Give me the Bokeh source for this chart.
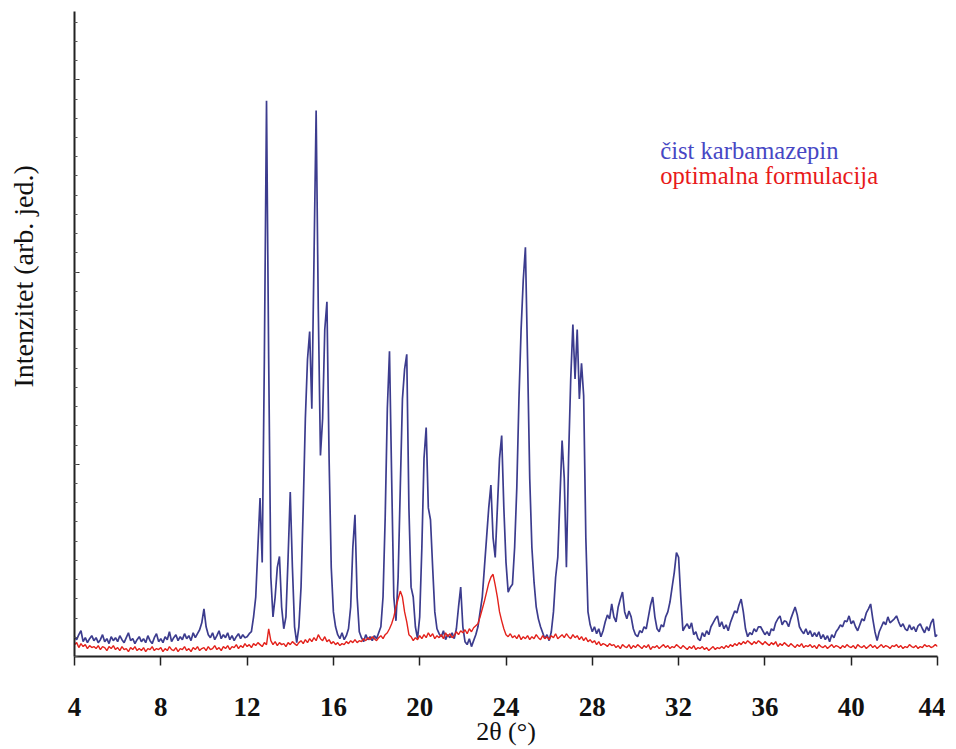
from bokeh.plotting import figure
from bokeh.models import (Range1d, FixedTicker, SingleIntervalTicker, Label, Title,
                          CustomJSTickFormatter, LinearAxis)
from bokeh.embed import file_html
from bokeh.resources import INLINE

# 2-theta scan grid (degrees), 0.1 deg step
two_theta = [round(4 + 0.1 * i, 1) for i in range(401)]

# Pure carbamazepine (blue), arbitrary units
karbamazepin = [
    20, 17, 22, 26, 15, 19, 14, 18, 21, 16,   # 4
    19, 14, 17, 22, 15, 18, 13, 20, 16, 19,   # 5
    15, 21, 17, 14, 19, 24, 16, 18, 13, 17,   # 6
    20, 15, 18, 14, 21, 16, 13, 19, 23, 15,   # 7
    18, 14, 20, 17, 25, 15, 19, 22, 16, 20,   # 8
    17, 23, 18, 21, 16, 24, 19, 23, 27, 34,   # 9
    48, 30, 22, 19, 24, 17, 21, 26, 18, 22,   # 10
    19, 24, 17, 21, 16, 20, 23, 18, 22, 19,   # 11
    20, 23, 25, 40, 60, 110, 160, 95, 300, 561,   # 12
    300, 80, 40, 60, 90, 101, 50, 28, 40, 100,    # 13
    166, 90, 30, 14, 30, 70, 150, 240, 300, 328,  # 14
    250, 400, 551, 350, 203, 240, 330, 358, 200, 90,  # 15
    45, 30, 22, 18, 24, 17, 21, 28, 50, 110,   # 16
    143, 60, 25, 19, 15, 22, 17, 20, 16, 21,   # 17
    18, 24, 30, 60, 140, 250, 308, 180, 60, 36,   # 18
    80, 170, 260, 290, 305, 150, 70, 60, 30, 18,  # 19
    40, 110, 200, 231, 150, 138, 90, 45, 28, 23,  # 20
    20, 26, 17, 22, 19, 24, 18, 28, 50, 70,    # 21
    30, 15, 12, 18, 10, 16, 22, 30, 45, 60,    # 22
    90, 120, 150, 173, 120, 100, 150, 200, 223, 150,  # 23
    95, 65, 70, 73, 110, 170, 260, 330, 380, 413,  # 24
    300, 180, 110, 75, 50, 38, 30, 24, 18, 22,  # 25
    16, 25, 45, 80, 100, 160, 218, 180, 90, 200,  # 26
    280, 335, 280, 330, 260, 296, 263, 120, 45, 32,  # 27
    25, 30, 23, 28, 20, 26, 35, 42, 38, 53,    # 28
    40, 35, 50, 58, 65, 45, 38, 46, 40, 28,    # 29
    22, 20, 26, 24, 30, 28, 40, 52, 60, 40,    # 30
    28, 25, 32, 30, 40, 45, 55, 70, 85, 105,   # 31
    100, 60, 26, 30, 33, 28, 34, 22, 25, 18,   # 32
    16, 24, 20, 26, 22, 30, 34, 38, 41, 30,    # 33
    35, 28, 32, 26, 34, 40, 46, 44, 52, 58,    # 34
    45, 28, 20, 24, 22, 28, 25, 30, 30, 26,    # 35
    22, 25, 21, 28, 26, 34, 38, 41, 32, 36,    # 36
    35, 30, 38, 44, 50, 42, 30, 26, 23, 28,    # 37
    22, 26, 20, 24, 20, 25, 18, 22, 17, 21,    # 38
    15, 22, 19, 25, 28, 32, 30, 36, 35, 41,    # 39
    33, 36, 30, 26, 32, 38, 36, 44, 48, 53,    # 40
    38, 25, 16, 25, 30, 35, 32, 40, 34, 36,    # 41
    38, 41, 35, 30, 33, 28, 26, 32, 27, 30,    # 42
    25, 31, 33, 28, 24, 30, 26, 34, 38, 20,    # 43
    22,
]

# Optimal formulation (red)
formulacija = [
    12, 14, 9, 13, 10, 12, 8, 11, 9, 10,      # 4
    8, 11, 7, 10, 9, 6, 10, 8, 11, 7,         # 5
    9, 6, 10, 7, 8, 5, 9, 7, 10, 6,           # 6
    8, 6, 9, 5, 8, 7, 10, 6, 8, 7,            # 7
    9, 5, 8, 6, 10, 7, 6, 9, 5, 8,            # 8
    7, 10, 6, 8, 5, 9, 7, 10, 6, 8,           # 9
    9, 6, 10, 7, 8, 11, 7, 9, 6, 10,          # 10
    8, 11, 7, 10, 9, 12, 8, 11, 9, 13,        # 11
    10, 12, 9, 13, 11, 14, 12, 10, 14, 12,    # 12
    28, 16, 12, 15, 11, 14, 12, 13, 10, 14,   # 13
    12, 15, 13, 11, 14, 16, 13, 17, 14, 18,   # 14
    15, 19, 16, 22, 18, 16, 20, 15, 17, 13,   # 15
    15, 12, 14, 11, 13, 12, 15, 13, 16, 14,   # 16
    17, 14, 16, 15, 18, 16, 19, 17, 20, 18,   # 17
    16, 19, 21, 18, 22, 24, 28, 33, 40, 50,   # 18
    58, 66, 60, 45, 35, 22, 20, 16, 19, 17,   # 19
    21, 18, 22, 19, 24, 20, 23, 18, 21, 19,   # 20
    22, 18, 24, 20, 23, 19, 21, 25, 22, 26,   # 21
    24, 27, 23, 28, 25, 29, 31, 33, 40, 48,   # 22
    56, 65, 74, 80, 83, 72, 60, 45, 36, 28,   # 23
    22, 20, 23, 19, 21, 18, 22, 17, 20, 18,   # 24
    21, 17, 20, 18, 22, 19, 17, 21, 18, 20,   # 25
    17, 21, 19, 23, 18, 20, 22, 19, 23, 20,   # 26
    18, 22, 19, 21, 17, 20, 16, 19, 15, 17,   # 27
    14, 16, 12, 15, 11, 13, 12, 10, 13, 11,   # 28
    12, 9, 11, 8, 12, 10, 9, 12, 8, 11,       # 29
    9, 12, 10, 8, 11, 9, 12, 7, 10, 9,        # 30
    11, 8, 10, 12, 9, 11, 8, 10, 9, 12,       # 31
    10, 8, 11, 9, 7, 10, 8, 11, 7, 9,         # 32
    8, 10, 7, 9, 6, 8, 10, 7, 9, 8,           # 33
    10, 8, 11, 9, 12, 10, 13, 11, 14, 12,     # 34
    15, 13, 16, 14, 12, 15, 13, 16, 14, 12,   # 35
    15, 13, 11, 14, 12, 15, 10, 13, 11, 14,   # 36
    12, 10, 13, 11, 9, 12, 10, 13, 9, 11,     # 37
    10, 12, 9, 11, 8, 12, 10, 9, 11, 8,       # 38
    10, 12, 9, 11, 10, 8, 11, 9, 12, 10,      # 39
    9, 11, 8, 12, 10, 9, 11, 8, 10, 12,       # 40
    9, 11, 8, 10, 12, 9, 11, 10, 8, 11,       # 41
    10, 12, 9, 11, 8, 10, 9, 12, 10, 9,       # 42
    11, 8, 10, 9, 12, 10, 11, 9, 10, 12,      # 43
    10,
]

x_ticks = [4, 8, 12, 16, 20, 24, 28, 32, 36, 40, 44]
x_title = "2θ (°)"
y_title = "Intenzitet (arb. jed.)"
series_names = ["čist karbamazepin", "optimalna formulacija"]
series_colors = ["#3c3c8e", "#e3221c"]
label_colors = ["#4747c4", "#e81a1a"]

SERIF = "Liberation Serif"

p = figure(width=945, height=748, output_backend="svg", toolbar_location=None,
           x_range=Range1d(4, 44), y_range=Range1d(0, 651),
           min_border_left=73, min_border_right=8, min_border_top=11, min_border_bottom=87)
p.outline_line_color = None
p.xgrid.visible = False
p.ygrid.visible = False
p.background_fill_color = "white"
p.border_fill_color = "white"

p.line(two_theta, karbamazepin, line_color=series_colors[0], line_width=1.7)
p.line(two_theta, formulacija, line_color=series_colors[1], line_width=1.4)

# x axis
xa = p.xaxis[0]
xa.ticker = FixedTicker(ticks=x_ticks)
xa.axis_line_color = "#222222"
xa.axis_line_width = 2
xa.major_tick_line_color = "#222222"
xa.major_tick_line_width = 1.5
xa.major_tick_out = 9
xa.major_tick_in = 0
xa.minor_tick_line_color = None
xa.major_label_text_font = SERIF
xa.major_label_text_font_style = "bold"
xa.major_label_text_font_size = "27px"
xa.major_label_text_color = "#111111"
xa.major_label_standoff = 32
xa.axis_label = x_title
xa.axis_label_text_font = SERIF
xa.axis_label_text_font_style = "normal"
xa.axis_label_text_font_size = "26px"
xa.axis_label_text_color = "#111111"
xa.axis_label_standoff = -2

# y axis (no numeric labels, inner ticks)
ya = p.yaxis[0]
ya.ticker = SingleIntervalTicker(interval=194, num_minor_ticks=10)
ya.formatter = CustomJSTickFormatter(code="return ''")
ya.axis_line_color = "#222222"
ya.axis_line_width = 2
ya.major_tick_in = 5
ya.major_tick_out = 0
ya.minor_tick_in = 3
ya.minor_tick_out = 0
ya.major_tick_line_color = "#333333"
ya.minor_tick_line_color = "#555555"
ya.major_label_standoff = 0

# invisible spacer axis that pushes the y title away from the axis line
spacer = LinearAxis(ticker=SingleIntervalTicker(interval=1000, num_minor_ticks=0),
                    formatter=CustomJSTickFormatter(code="return ''"),
                    axis_line_color=None, major_tick_line_color=None,
                    minor_tick_line_color=None, major_tick_in=0, major_tick_out=31,
                    minor_tick_in=0, minor_tick_out=0, major_label_standoff=0)
p.add_layout(spacer, "left")

# y title sits above the axis centre in the original -> left Title, bottom-aligned with offset
p.add_layout(Title(text=y_title, align="left", offset=269, standoff=10,
                   text_font=SERIF, text_font_size="28px", text_font_style="normal",
                   text_color="#111111"), "left")

# legend-like colored texts
p.add_layout(Label(x=31.15, y=511, text=series_names[0], text_color=label_colors[0],
                   text_font=SERIF, text_font_size="24.6px", text_baseline="alphabetic"))
p.add_layout(Label(x=31.15, y=485, text=series_names[1], text_color=label_colors[1],
                   text_font=SERIF, text_font_size="24.6px", text_baseline="alphabetic"))

open("out.html", "w").write(file_html(p, INLINE))
